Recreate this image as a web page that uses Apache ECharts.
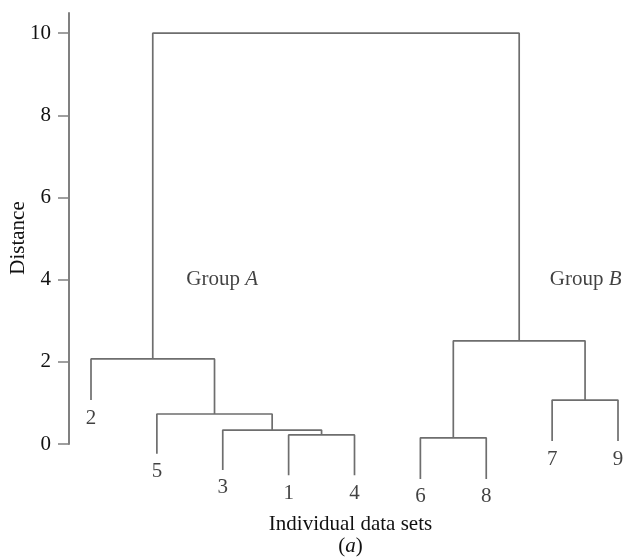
<!DOCTYPE html>
<html>
<head>
<meta charset="utf-8">
<script src="https://cdn.jsdelivr.net/npm/echarts@6/dist/echarts.min.js"></script>
<style>html,body{margin:0;padding:0;background:#fff}#c{width:626px;height:557px}</style>
</head>
<body>
<div id="c"></div>
<script>
// leaves in drawing order
const leafLabels = ['2','5','3','1','4','6','8','7','9'];
const leafHeights = [1.07,-0.24,-0.63,-0.76,-0.76,-0.85,-0.85,0.07,0.07];
// merges: [leftNode, rightNode, height]; nodes 0-8 are leaves, 9+ are merges in order
const merges = [[3,4,0.22],[2,9,0.34],[1,10,0.73],[0,11,2.07],[5,6,0.15],[7,8,1.07],[13,14,2.51],[12,15,10.0]];
const yTicks = [0,2,4,6,8,10];
const groupLabels = [['A',1.99,4.0],['B',7.51,4.0]];

const FONT = 'Liberation Serif';
const FS = 21;
const TXT = '#111';
const nodeX = leafLabels.map((_, i) => i);
const nodeH = leafHeights.slice();
const series = [];
merges.forEach(m => {
  const [a, b, h] = m;
  series.push({
    type: 'line', clip: false, silent: true, symbol: 'none',
    lineStyle: {color: '#6e6e6e', width: 1.7},
    data: [[nodeX[a], nodeH[a]], [nodeX[a], h], [nodeX[b], h], [nodeX[b], nodeH[b]]]
  });
  nodeX.push((nodeX[a] + nodeX[b]) / 2);
  nodeH.push(h);
});
series.push({
  type: 'scatter', clip: false, silent: true, symbolSize: 0,
  data: leafLabels.map((l, i) => ({value: [i, leafHeights[i]], name: l})),
  label: {show: true, position: 'inside', offset: [0, 18], formatter: p => p.name,
    fontFamily: FONT, fontSize: FS, color: TXT}
});
series.push({
  type: 'scatter', clip: false, silent: true, symbolSize: 0,
  data: groupLabels.map(g => ({value: [g[1], g[2]], name: g[0]})),
  label: {show: true, position: 'inside', formatter: p => '{n|Group }{i|' + p.name + '}',
    rich: {n: {fontFamily: FONT, fontSize: FS, color: TXT},
           i: {fontFamily: FONT, fontSize: FS, fontStyle: 'italic', color: TXT}}}
});

const chart = echarts.init(document.getElementById('c'), null, {renderer: 'canvas'});
chart.setOption({
  animation: false,
  backgroundColor: '#fff',
  grid: {left: 69, right: 8, top: 13, bottom: 113, containLabel: false, outerBoundsMode: 'none'},
  xAxis: {
    type: 'value', min: -0.334, max: 8,
    axisLine: {show: false}, axisTick: {show: false}, axisLabel: {show: false}, splitLine: {show: false},
    name: 'Individual data sets\n{p|(}{i|a}{p|)}', nameLocation: 'middle', nameGap: 69,
    nameTextStyle: {fontFamily: FONT, fontSize: FS, color: TXT, lineHeight: 22, padding: [0, 0, 0, 14],
      rich: {p: {fontFamily: FONT, fontSize: FS, color: TXT, lineHeight: 22},
             i: {fontFamily: FONT, fontSize: FS, fontStyle: 'italic', color: TXT, lineHeight: 22}}}
  },
  yAxis: {
    type: 'value', min: 0, max: 10.49, interval: 2,
    axisLine: {show: true, onZero: false, lineStyle: {color: '#808080', width: 2}},
    axisTick: {show: true, length: 11, lineStyle: {color: '#808080', width: 1.5}, customValues: yTicks},
    axisLabel: {show: true, margin: 18, fontFamily: FONT, fontSize: FS, color: TXT, customValues: yTicks},
    splitLine: {show: false},
    name: 'Distance', nameLocation: 'middle', nameRotate: 90, nameGap: 40, nameMoveOverlap: false,
    nameTextStyle: {fontFamily: FONT, fontSize: FS, color: TXT, padding: [0, 0, 0, -19]}
  },
  series: series
});
</script>
</body>
</html>
